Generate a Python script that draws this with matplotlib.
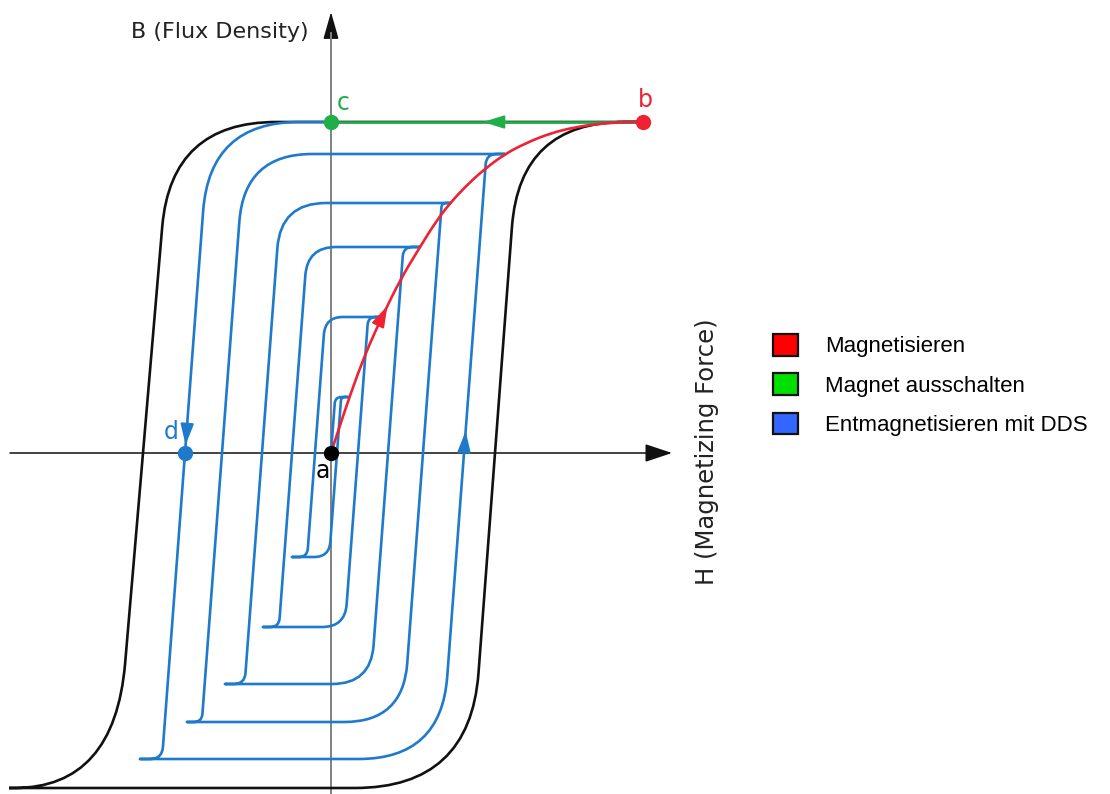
import numpy as np
import matplotlib
matplotlib.use("Agg")
import matplotlib.pyplot as plt
from matplotlib.path import Path
from matplotlib.patches import PathPatch, Patch

# ---------------- data (H = magnetizing force, B = flux density, arbitrary units) ----
# outer (black) saturation loop
black_top_B = 331
black_bottom_B = -335
black_left_H0 = -188      # descending branch crossing of B = 0
black_right_H0 = 164      # ascending branch crossing of B = 0
black_tip_right_H = 312   # point b
black_tip_left_H = -322

# demagnetising spiral (blue)
spiral_tops_B = [331, 299, 250, 206, 136, 56]
spiral_bottoms_B = [-306, -269, -231, -174, -104]
spiral_left_H0 = [-146, -109, -69, -39, -16]
spiral_right_H0 = [133, 92, 57, 27, 6]
spiral_tip_right_H = [0, 174, 119, 89, 51, 17]
spiral_tip_left_H = [-191, -144, -106, -68, -39]

# virgin magnetisation curve (red) a -> b
red_H = [0, 13, 27, 39, 51, 69, 89, 104, 119, 138, 155, 174, 195, 220, 245, 270, 295, 312]
red_B = [0, 40, 80, 110, 136, 173, 206, 230, 250, 270, 285, 299, 310, 320, 326, 329.5, 331, 331]

# points
pt_a = (0, 0)
pt_b = (312, 331)
pt_c = (0, 331)
pt_d = (-146, 0)

legend_labels = ["Magnetisieren", "Magnet ausschalten", "Entmagnetisieren mit DDS"]
legend_colors = ["#ff0000", "#00e000", "#3366ff"]

BLUE = "#1f7acc"
RED = "#ee2233"
GREEN = "#1fae48"

# ---------------- helpers ----------------
def rounded_path(pts, dists, cap=0.95):
    """polyline through pts, corners i (1..n-2) rounded with quadratic curves of size dists[i-1]"""
    pts = [np.asarray(p, float) for p in pts]
    verts = [pts[0]]
    codes = [Path.MOVETO]
    for i in range(1, len(pts) - 1):
        P, A, C = pts[i], pts[i - 1], pts[i + 1]
        d = dists[i - 1]
        la, lc = np.linalg.norm(A - P), np.linalg.norm(C - P)
        if d <= 0 or la == 0 or lc == 0:
            verts.append(P); codes.append(Path.LINETO)
            continue
        da = min(d, la * cap)
        dc = min(d, lc * cap)
        verts += [P + da * (A - P) / la, P, P + dc * (C - P) / lc]
        codes += [Path.LINETO, Path.CURVE3, Path.CURVE3]
    verts.append(pts[-1]); codes.append(Path.LINETO)
    return Path(np.array(verts), codes)

fig = plt.figure(figsize=(11.1, 7.94), dpi=100)
ax = fig.add_axes([0, 0, 1, 1])
ax.set_xlim(-331, 779)
ax.set_ylim(-341, 453)
ax.axis("off")

# ---------------- axes with arrows ----------------
ax.annotate("", xy=(341, 0), xytext=(-321, 0),
            arrowprops=dict(arrowstyle="-|>,head_length=0.6,head_width=0.2", color="#111111",
                            lw=1.1, shrinkA=0, shrinkB=0, mutation_scale=28), zorder=1)
ax.annotate("", xy=(0, 441), xytext=(0, -341),
            arrowprops=dict(arrowstyle="-|>,head_length=0.6,head_width=0.17", color="#111111",
                            lw=1.1, shrinkA=0, shrinkB=0, mutation_scale=28), zorder=1)
ax.plot([0, 0], [-341, 420], color="#8a8a8a", lw=1.3, zorder=1.1)

# ---------------- black saturation loop ----------------
sl, sr = 0.085, 0.075
bpts = [
    (black_tip_right_H, black_top_B),
    (black_left_H0 + sl * black_top_B, black_top_B),
    (black_left_H0 + sl * black_bottom_B, black_bottom_B),
    (black_tip_left_H, black_bottom_B),
    (black_right_H0 + sr * black_bottom_B, black_bottom_B),
    (black_right_H0 + sr * black_top_B, black_top_B),
    (black_tip_right_H, black_top_B),
]
bd = [105, 125, 0, 115, 105]
ax.add_patch(PathPatch(rounded_path(bpts, bd), fill=False, ec="#111111", lw=1.9, zorder=2))

# ---------------- blue spiral ----------------
s = 0.075
pts = [pt_c]
dists = []
for k in range(len(spiral_bottoms_B)):
    top, bot = spiral_tops_B[k], spiral_bottoms_B[k]
    c1 = (spiral_left_H0[k] + s * top, top)
    c2 = (spiral_left_H0[k] + s * bot, bot)
    tip = (spiral_tip_left_H[k], bot)
    pts += [c1, c2, tip]
    dists += [0.62 * abs(c1[0]) + 14, min(14, 0.55 * abs(c2[0] - tip[0])), 0]
    ntop = spiral_tops_B[k + 1]
    c3 = (spiral_right_H0[k] + s * bot, bot)
    c4 = (spiral_right_H0[k] + s * ntop, ntop)
    tip2 = (spiral_tip_right_H[k + 1], ntop)
    pts += [c3, c4, tip2]
    dists += [0.62 * abs(c3[0]) + 14, min(14, 0.55 * abs(tip2[0] - c4[0])), 0]
last_top = spiral_tops_B[-1]
c5 = (s * last_top, last_top)
pts += [c5, pt_a]
dists += [min(12, 0.5 * abs(spiral_tip_right_H[-1] - c5[0]))]
ax.add_patch(PathPatch(rounded_path(pts, dists), fill=False, ec=BLUE, lw=1.9,
                       capstyle="round", joinstyle="round", zorder=3))

# ---------------- green and red ----------------
ax.plot([pt_b[0], pt_c[0]], [pt_b[1], pt_c[1]], color=GREEN, lw=1.9, zorder=4)
red_path = rounded_path(list(zip(red_H, red_B)), [1e9] * (len(red_H) - 2), cap=0.5)
ax.add_patch(PathPatch(red_path, fill=False, ec=RED, lw=1.9, zorder=5))

def head(xy, xytext, color):
    ax.annotate("", xy=xy, xytext=xytext,
                arrowprops=dict(arrowstyle="-|>,head_length=0.8,head_width=0.25", color=color,
                                lw=1.5, shrinkA=0, shrinkB=0, mutation_scale=16), zorder=6)

# red arrow along segment 4 -> 5
p4, p5 = np.array([red_H[4], red_B[4]]), np.array([red_H[5], red_B[5]])
head(tuple(p4 + 0.3 * (p5 - p4)), tuple(p4 - 0.15 * (p5 - p4)), RED)
# green arrow pointing to c
head((152, 331), (175, 331), GREEN)
# blue arrows
head((spiral_right_H0[0] + s * 22, 22), (spiral_right_H0[0] + s * 2, 2), BLUE)
head((spiral_left_H0[0] + s * 8, 8), (spiral_left_H0[0] + s * 30, 30), BLUE)

# ---------------- points and labels ----------------
ax.plot(*pt_a, "o", color="black", ms=10, zorder=7)
ax.plot(*pt_b, "o", color=RED, ms=10, zorder=7)
ax.plot(*pt_c, "o", color=GREEN, ms=10, zorder=7)
ax.plot(*pt_d, "o", color=BLUE, ms=10, zorder=7)

lab = dict(fontsize=17, family="DejaVu Sans", ha="center", va="center", zorder=8)
ax.text(-8, -18, "a", color="black", **lab)
ax.text(314, 353, "b", color=RED, **lab)
ax.text(12, 350, "c", color=GREEN, **lab)
ax.text(-160, 21, "d", color=BLUE, **lab)

ax.text(-22, 421, "B (Flux Density)", fontsize=16, family="DejaVu Sans", color="#222222",
        ha="right", va="center")
ax.text(376, 1, "H (Magnetizing Force)", fontsize=17.5, family="DejaVu Sans", color="#222222",
        ha="center", va="center", rotation=90)

# ---------------- legend ----------------
handles = [Patch(facecolor=c, edgecolor="#111111", lw=1.6) for c in legend_colors]
fig.legend(handles, legend_labels, loc="upper left", bbox_to_anchor=(773 / 1110, 1 - 334 / 794),
           frameon=False, borderpad=0, borderaxespad=0, handlelength=1.125, handleheight=1.125,
           handletextpad=1.2, labelspacing=0.72,
           prop=dict(family="Liberation Sans", size=16))

fig.savefig("out.png", dpi=100)
